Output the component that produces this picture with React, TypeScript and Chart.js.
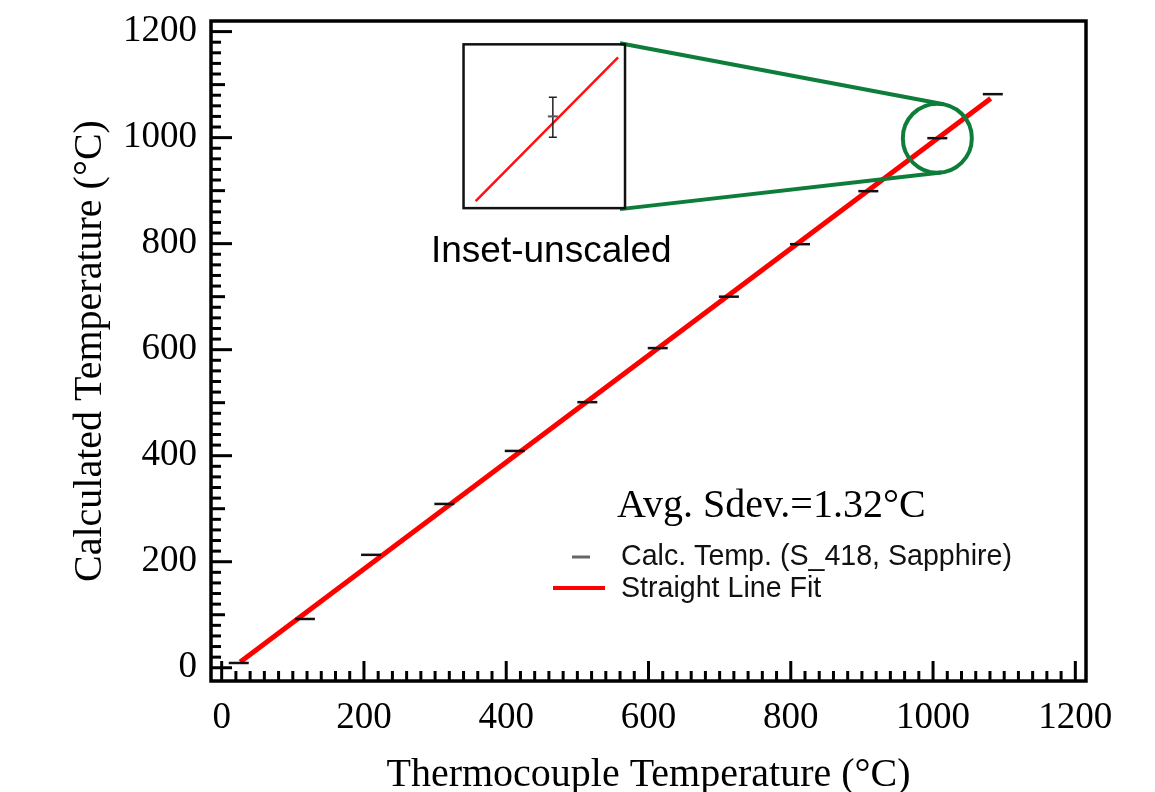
import React, { useEffect, useRef } from 'react';
import { Chart, registerables } from 'chart.js';

Chart.register(...registerables);

// ---------- data ----------
const thermocoupleTemp = [24, 117, 210, 313, 412, 514, 613, 713, 813, 909, 1006, 1084];
const calculatedTemp = [9, 92, 213, 309, 409, 501, 603, 700, 799, 899, 999, 1082];
const fitX = [26, 1081];
const fitY = [11, 1074];
const xTickValues = [0, 200, 400, 600, 800, 1000, 1200];
const yTickValues = [0, 200, 400, 600, 800, 1000, 1200];
const seriesLabels = ['Calc. Temp. (S_418, Sapphire)', 'Straight Line Fit'];
const xTitle = 'Thermocouple Temperature (°C)';
const yTitle = 'Calculated Temperature (°C)';
const annotationText = 'Avg. Sdev.=1.32°C';
const insetLabel = 'Inset-unscaled';
const zoomedPointIndex = 10;

// ---------- layout / style ----------
const W = 1155;
const H = 792;
const SERIF = "'Liberation Serif', 'Times New Roman', serif";
const SANS = "'Liberation Sans', Arial, sans-serif";
const GREEN = '#0f7d3a';

// inset box expressed in data units of the main axes
const INSET = { x0: 340, x1: 567, y0: 867, y1: 1176 };
const ZOOM_RADIUS = 34.5;

const decorations = {
  id: 'decorations',
  afterDatasetsDraw(chart: any) {
    const { ctx, chartArea: a, scales } = chart;
    const xs = scales.x;
    const ys = scales.y;
    ctx.save();
    ctx.strokeStyle = '#000';
    ctx.lineCap = 'butt';
    ctx.lineWidth = 3;
    const seg = (x1: number, y1: number, x2: number, y2: number) => {
      ctx.beginPath();
      ctx.moveTo(x1, y1);
      ctx.lineTo(x2, y2);
      ctx.stroke();
    };
    for (let i = 0; i <= 60; i++) {
      const v = i * 20;
      const px = xs.getPixelForValue(v);
      const len = v % 200 === 0 ? 20 : 10;
      seg(px, a.bottom, px, a.bottom - len);
      const py = ys.getPixelForValue(v);
      const ylen = v % 200 === 0 ? 21 : v % 100 === 0 ? 14 : 10;
      seg(a.left, py, a.left + ylen, py);
    }
    ctx.lineWidth = 3.5;
    ctx.strokeRect(a.left, a.top, a.right - a.left, a.bottom - a.top);
    ctx.restore();
  },
  afterDraw(chart: any) {
    const { ctx, scales } = chart;
    const xs = scales.x;
    const ys = scales.y;
    ctx.save();

    // ---- inset ----
    const bx0 = xs.getPixelForValue(INSET.x0);
    const bx1 = xs.getPixelForValue(INSET.x1);
    const by0 = ys.getPixelForValue(INSET.y1);
    const by1 = ys.getPixelForValue(INSET.y0);
    const bw = bx1 - bx0;
    const bh = by1 - by0;

    // zoom circle around a data point
    const cx = xs.getPixelForValue(thermocoupleTemp[zoomedPointIndex]);
    const cy = ys.getPixelForValue(calculatedTemp[zoomedPointIndex]);

    const tangent = (px: number, py: number, upper: boolean) => {
      const dx = cx - px;
      const dy = cy - py;
      const d = Math.hypot(dx, dy);
      const ang = Math.atan2(dy, dx);
      const off = Math.asin(ZOOM_RADIUS / d);
      const t = upper ? ang - off : ang + off;
      const L = Math.sqrt(d * d - ZOOM_RADIUS * ZOOM_RADIUS);
      return [px + L * Math.cos(t), py + L * Math.sin(t)];
    };

    ctx.strokeStyle = GREEN;
    ctx.lineWidth = 4;
    const t1 = tangent(bx1, by0 - 1, true);
    const t2 = tangent(bx1, by1 + 1, false);
    ctx.beginPath();
    ctx.moveTo(bx1 - 5, by0 - 1);
    ctx.lineTo(t1[0], t1[1]);
    ctx.stroke();
    ctx.beginPath();
    ctx.moveTo(bx1 - 5, by1 + 1);
    ctx.lineTo(t2[0], t2[1]);
    ctx.stroke();
    ctx.beginPath();
    ctx.arc(cx, cy, ZOOM_RADIUS, 0, Math.PI * 2);
    ctx.stroke();

    // box
    ctx.strokeStyle = '#111';
    ctx.lineWidth = 2.5;
    ctx.strokeRect(bx0, by0, bw, bh);

    // magnified fit line in the inset
    ctx.strokeStyle = '#ff1010';
    ctx.lineWidth = 2.5;
    ctx.beginPath();
    ctx.moveTo(bx0 + 0.075 * bw, by0 + 0.957 * bh);
    ctx.lineTo(bx0 + 0.957 * bw, by0 + 0.08 * bh);
    ctx.stroke();

    // magnified point with error bar
    const ex = bx0 + 0.553 * bw;
    const eTop = by0 + 0.323 * bh;
    const eBot = by0 + 0.567 * bh;
    const eMid = by0 + 0.44 * bh;
    ctx.strokeStyle = '#222';
    ctx.lineWidth = 1.5;
    ctx.beginPath();
    ctx.moveTo(ex, eTop);
    ctx.lineTo(ex, eBot);
    ctx.moveTo(ex - 4, eTop);
    ctx.lineTo(ex + 4, eTop);
    ctx.moveTo(ex - 4, eBot);
    ctx.lineTo(ex + 4, eBot);
    ctx.stroke();
    ctx.strokeStyle = '#555';
    ctx.lineWidth = 2;
    ctx.beginPath();
    ctx.moveTo(ex - 5, eMid);
    ctx.lineTo(ex + 5, eMid);
    ctx.stroke();

    ctx.fillStyle = '#000';
    ctx.font = `37px ${SANS}`;
    ctx.textAlign = 'center';
    ctx.textBaseline = 'alphabetic';
    ctx.fillText(insetLabel, bx0 + bw / 2 + 7, by1 + 54);

    // ---- annotation ----
    ctx.font = `40px ${SERIF}`;
    ctx.textAlign = 'left';
    ctx.fillText(annotationText, 617, 517);

    // ---- legend ----
    const ds = chart.data.datasets;
    ctx.font = `28.6px ${SANS}`;
    ctx.textBaseline = 'middle';
    ctx.fillStyle = '#111';
    ctx.fillText(ds[0].label, 621, 557);
    ctx.fillText(ds[1].label, 621, 589);
    ctx.strokeStyle = '#666';
    ctx.lineWidth = 3;
    ctx.beginPath();
    ctx.moveTo(572, 557);
    ctx.lineTo(590, 557);
    ctx.stroke();
    ctx.strokeStyle = ds[1].borderColor;
    ctx.lineWidth = 4;
    ctx.beginPath();
    ctx.moveTo(553, 588);
    ctx.lineTo(605, 588);
    ctx.stroke();

    ctx.restore();
  },
};

export default function App() {
  const ref = useRef<HTMLCanvasElement | null>(null);

  useEffect(() => {
    if (!ref.current) return;
    const points = thermocoupleTemp.map((x, i) => ({ x, y: calculatedTemp[i] }));
    const fit = fitX.map((x, i) => ({ x, y: fitY[i] }));
    const chart = new Chart(ref.current, {
      type: 'scatter',
      data: {
        datasets: [
          {
            type: 'scatter',
            label: seriesLabels[0],
            data: points,
            pointStyle: 'line',
            pointRadius: 10,
            pointBorderWidth: 2.5,
            borderColor: '#111',
            backgroundColor: '#111',
          },
          {
            type: 'line',
            label: seriesLabels[1],
            data: fit,
            borderColor: '#ff0000',
            borderWidth: 5,
            pointRadius: 0,
            fill: false,
          },
        ],
      },
      options: {
        responsive: false,
        animation: false,
        devicePixelRatio: 1,
        layout: { padding: { left: 0, top: 21, right: 69, bottom: 0 } },
        plugins: {
          legend: { display: false },
          tooltip: { enabled: false },
        },
        scales: {
          x: {
            type: 'linear',
            position: 'bottom',
            min: -15,
            max: 1215,
            grid: { display: false, drawTicks: false },
            border: { display: false },
            afterBuildTicks: (scale: any) => {
              scale.ticks = xTickValues.map((v) => ({ value: v }));
            },
            afterFit: (scale: any) => {
              scale.height = 111;
              scale.paddingLeft = 0;
              scale.paddingRight = 0;
            },
            ticks: {
              color: '#000',
              padding: 15,
              maxRotation: 0,
              autoSkip: false,
              font: { family: SERIF, size: 37 },
              callback: (v: any) => String(v),
            },
            title: {
              display: true,
              text: xTitle,
              color: '#000',
              font: { family: SERIF, size: 40 },
              padding: { top: 0, bottom: -7 },
            },
          },
          y: {
            type: 'linear',
            position: 'left',
            min: -25,
            max: 1220,
            grid: { display: false, drawTicks: false },
            border: { display: false },
            afterBuildTicks: (scale: any) => {
              scale.ticks = yTickValues.map((v) => ({ value: v }));
            },
            afterFit: (scale: any) => {
              scale.width = 211;
              scale.paddingTop = 0;
              scale.paddingBottom = 0;
            },
            ticks: {
              color: '#000',
              padding: 14,
              autoSkip: false,
              font: { family: SERIF, size: 37 },
              callback: (v: any) => String(v),
            },
            title: {
              display: true,
              text: yTitle,
              color: '#000',
              font: { family: SERIF, size: 40 },
              padding: { top: 66, bottom: 0 },
            },
          },
        },
      },
      plugins: [decorations],
    } as any);
    return () => chart.destroy();
  }, []);

  return (
    <div style={{ position: 'fixed', left: 0, top: 0, width: W, height: H, background: '#fff', overflow: 'hidden' }}>
      <canvas ref={ref} width={W} height={H} style={{ width: W, height: H, display: 'block' }} />
    </div>
  );
}
